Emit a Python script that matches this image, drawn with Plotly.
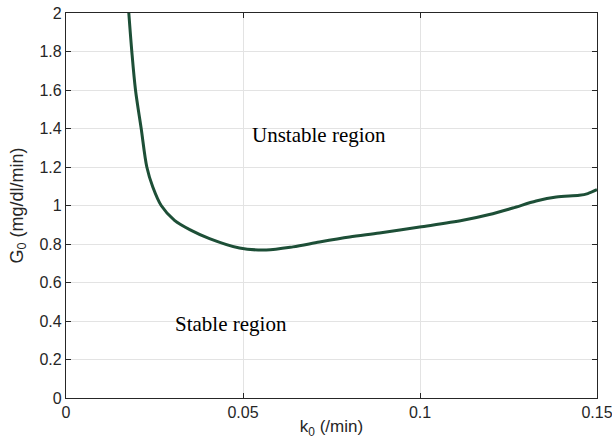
import plotly.graph_objects as go

# Stability boundary G0(k0)
k0 = [0.01774, 0.01859, 0.01963, 0.02124, 0.02283, 0.02452, 0.02689, 0.03065, 0.03537,
      0.04054, 0.0490, 0.05655, 0.0641, 0.0716, 0.0801, 0.08856, 0.0999,
      0.1121, 0.1196, 0.1262, 0.1328, 0.1385, 0.1450, 0.1474, 0.1500]
g0 = [2.0, 1.8, 1.6, 1.4, 1.2, 1.096, 1.0, 0.923, 0.871,
      0.828, 0.779, 0.769, 0.785, 0.810, 0.836, 0.857, 0.888,
      0.923, 0.953, 0.987, 1.023, 1.044, 1.053, 1.062, 1.082]

x_ticks = [0, 0.05, 0.1, 0.15]
x_tick_text = ["0", "0.05", "0.1", "0.15"]
y_ticks = [0, 0.2, 0.4, 0.6, 0.8, 1.0, 1.2, 1.4, 1.6, 1.8, 2.0]
y_tick_text = ["0", "0.2", "0.4", "0.6", "0.8", "1", "1.2", "1.4", "1.6", "1.8", "2"]

region_labels = ["Unstable region", "Stable region"]
region_x = [0.0715, 0.0465]
region_y = [1.365, 0.383]

fig = go.Figure()
fig.add_trace(go.Scatter(
    x=k0, y=g0, mode="lines",
    line=dict(color="#1d4f37", width=3, shape="spline", smoothing=0.9),
    showlegend=False, hoverinfo="skip",
))

for txt, xx, yy in zip(region_labels, region_x, region_y):
    fig.add_annotation(x=xx, y=yy, text=txt, showarrow=False,
                       font=dict(family="Liberation Serif", size=21, color="#000000"))

axis_common = dict(
    showline=True, linecolor="#262626", linewidth=1.2, mirror="ticks",
    ticks="inside", ticklen=5, tickcolor="#262626", tickwidth=1,
    showgrid=True, gridcolor="#e3e3e3", gridwidth=1, zeroline=False,
    automargin=False, ticklabeloverflow="allow",
    tickfont=dict(family="Liberation Sans", size=16, color="#262626"),
)

fig.update_xaxes(range=[0, 0.15], tickvals=x_ticks, ticktext=x_tick_text,
                 title=dict(text="k<sub>0</sub> (/min)", standoff=4,
                            font=dict(family="Liberation Sans", size=17, color="#262626")),
                 **axis_common)
fig.update_yaxes(range=[0, 2], tickvals=y_ticks, ticktext=y_tick_text,
                 title=dict(text="G<sub>0</sub> (mg/dl/min)", standoff=11,
                            font=dict(family="Liberation Sans", size=18, color="#262626")),
                 **axis_common)

fig.update_layout(
    width=612, height=439,
    margin=dict(l=66, r=15, t=13, b=41),
    plot_bgcolor="#ffffff", paper_bgcolor="#ffffff",
)

fig.write_html("out.html")
